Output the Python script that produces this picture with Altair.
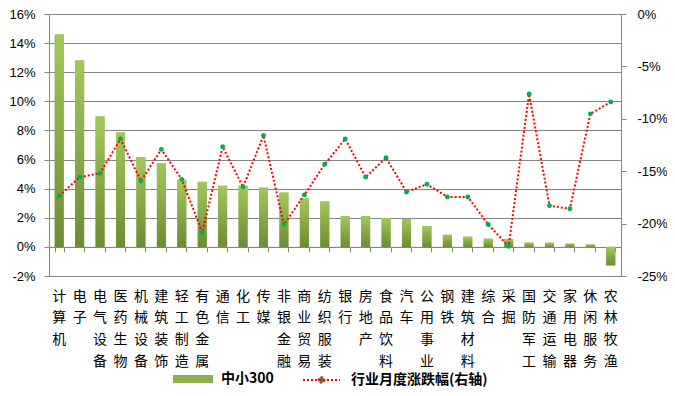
import altair as alt
import pandas as pd

categories = ["计算机", "电子", "电气设备", "医药生物", "机械设备", "建筑装饰", "轻工制造",
              "有色金属", "通信", "化工", "传媒", "非银金融", "商业贸易", "纺织服装", "银行",
              "房地产", "食品饮料", "汽车", "公用事业", "钢铁", "建筑材料", "综合", "采掘",
              "国防军工", "交通运输", "家用电器", "休闲服务", "农林牧渔"]
zx300 = [14.6, 12.8, 8.95, 7.86, 6.17, 5.76, 4.61, 4.47, 4.2, 4.2, 4.07, 3.73, 3.32, 3.12,
         2.1, 2.12, 1.98, 1.92, 1.44, 0.83, 0.70, 0.56, 0.55, 0.29, 0.29, 0.22, 0.16, -1.27]
monthly = [-17.36, -15.57, -15.19, -11.92, -15.94, -12.92, -15.78, -20.85, -12.67, -16.51,
           -11.6, -20.09, -17.26, -14.34, -11.92, -15.57, -13.71, -16.98, -16.25, -17.45,
           -17.45, -20.09, -22.17, -7.64, -18.3, -18.58, -9.53, -8.4]
series_bar = "中小300"
series_line = "行业月度涨跌幅(右轴)"
left_ticks = [-2, 0, 2, 4, 6, 8, 10, 12, 14, 16]
right_ticks = [0, -5, -10, -15, -20, -25]

df = pd.DataFrame({"行业": categories, "bar": zx300, "line": monthly})
df["s1"] = series_bar
df["s2"] = series_line

W, H = 572, 262
GRAY = "#868686"
LFONT = "Liberation Sans"
CJK = "Noto Sans CJK SC"

xscale = alt.Scale(domain=categories, paddingInner=0.56, paddingOuter=0.28)
yl_scale = alt.Scale(domain=[left_ticks[0], left_ticks[-1]], nice=False, zero=False)
yr_scale = alt.Scale(domain=[right_ticks[-1], right_ticks[0]], nice=False, zero=False)

x_label_axis = alt.Axis(title=None, domain=False, ticks=False, grid=False, labelAngle=0,
                        labelExpr="split(datum.label, '')", labelFont=CJK, labelFontSize=14,
                        labelLineHeight=21.7, labelBaseline="top", labelPadding=13,
                        labelColor="black", orient="bottom")
zero_off = -(0 - left_ticks[0]) / (left_ticks[-1] - left_ticks[0]) * H
x_tick_axis = alt.Axis(title=None, labels=False, domain=True, domainColor=GRAY, domainWidth=1,
                       ticks=True, tickBand="extent", tickSize=5, tickColor=GRAY, grid=False,
                       offset=zero_off, orient="bottom")
left_axis = alt.Axis(title=None, values=left_ticks, labelExpr="datum.value + '%'", grid=True,
                     gridColor=GRAY, gridWidth=1, domainColor=GRAY, tickColor=GRAY, tickSize=5,
                     labelPadding=9, labelFont=LFONT, labelFontSize=13, labelColor="black",
                     orient="left")
right_axis = alt.Axis(title=None, values=right_ticks, labelExpr="datum.value + '%'", grid=False,
                      domainColor=GRAY, tickColor=GRAY, tickSize=5, labelPadding=11,
                      labelFont=LFONT, labelFontSize=13, labelColor="black", orient="right")

gradient = alt.Gradient(gradient="linear",
                        stops=[alt.GradientStop(color="#A2C85A", offset=0),
                               alt.GradientStop(color="#6C8C34", offset=1)],
                        x1=0, x2=0, y1=0, y2=1)

base = alt.Chart(df)
xl = alt.X("行业:N", scale=xscale, axis=x_label_axis)
xt = alt.X("行业:N", scale=xscale, axis=x_tick_axis)

bars_fill = base.mark_bar().encode(
    x=xl,
    y=alt.Y("bar:Q", scale=yl_scale, axis=left_axis),
    color=alt.Color("s1:N", scale=alt.Scale(range=["#8DB04A"]),
                    legend=alt.Legend(title=None, orient="none", legendX=124, legendY=345,
                                      padding=0,
                                      symbolType="M-1,-0.2H1V0.2H-1Z",
                                      symbolSize=1600, symbolStrokeWidth=0,
                                      labelFont=CJK, labelFontWeight="bold", labelFontSize=14,
                                      labelColor="black", labelOffset=8)),
)
bars_grad = base.mark_bar(fill=gradient).encode(
    x=xl,
    y=alt.Y("bar:Q", scale=yl_scale, axis=left_axis),
)
left_layer = alt.layer(bars_fill, bars_grad)

line = base.mark_line(strokeDash=[2, 2], strokeWidth=2).encode(
    x=xt,
    y=alt.Y("line:Q", scale=yr_scale, axis=right_axis),
    stroke=alt.Stroke("s2:N", scale=alt.Scale(range=["#FF0000"]),
                      legend=alt.Legend(title=None, orient="none", legendX=253, legendY=346.5,
                                        padding=0,
                                        symbolType="M-1,0H1M0.15,0A0.15,0.15,0,1,1,-0.15,0A0.15,0.15,0,1,1,0.15,0",
                                        symbolSize=1369, symbolStrokeWidth=2, symbolDash=[2, 2],
                                        symbolFillColor="#00B050",
                                        labelFont=CJK, labelFontWeight="bold", labelFontSize=14,
                                        labelColor="black", labelOffset=10)),
)
points = base.mark_circle(color="#00B050", size=24, opacity=1).encode(
    x=xt,
    y=alt.Y("line:Q", scale=yr_scale, axis=right_axis),
)
right_layer = alt.layer(line, points)

chart = alt.layer(left_layer, right_layer).resolve_scale(
    y="independent"
).resolve_axis(
    x="independent"
).properties(
    width=W, height=H,
    autosize=alt.AutoSizeParams(type="none"),
    padding={"left": 41, "top": 6, "right": 46, "bottom": 112},
).configure_view(stroke=None)

chart.save("out.html", embed_options={"renderer": "svg", "actions": False})
